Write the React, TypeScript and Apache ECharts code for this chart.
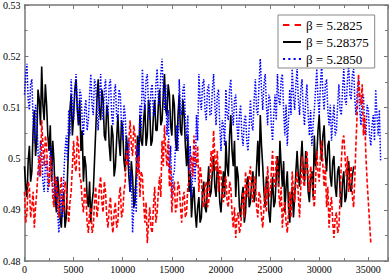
import React, { useEffect, useRef } from "react";
import * as echarts from "echarts";

// Monte Carlo trajectories sampled every SAMPLE_STEP sweeps
const SAMPLE_STEP = 125;

const seriesNames = ["β = 5.2825", "β = 5.28375", "β = 5.2850"];

const red5_2825 = [
  0.4935, 0.4875, 0.4895, 0.4955, 0.4945, 0.4885, 0.4905, 0.4935, 0.4865, 0.4905,
  0.4935, 0.4975, 0.5005, 0.4965, 0.5075, 0.5025, 0.4985, 0.5045, 0.5025, 0.4965,
  0.4945, 0.5005, 0.4985, 0.4925, 0.4905, 0.4965, 0.4955, 0.4915, 0.4885, 0.4935,
  0.4965, 0.4915, 0.4895, 0.4955, 0.4945, 0.4905, 0.4875, 0.4915, 0.4935, 0.4985,
  0.5035, 0.4985, 0.4975, 0.5045, 0.5025, 0.4965, 0.4955, 0.4915, 0.4895, 0.4945,
  0.4925, 0.4875, 0.4855, 0.4895, 0.4905, 0.4855, 0.4865, 0.4915, 0.4945, 0.4885,
  0.4905, 0.4945, 0.4965, 0.4915, 0.4895, 0.4955, 0.4935, 0.4885, 0.4865, 0.4905,
  0.4925, 0.4875, 0.4855, 0.4895, 0.4915, 0.4865, 0.4875, 0.4925, 0.4945, 0.4885,
  0.4895, 0.4935, 0.4955, 0.5015, 0.4985, 0.5035, 0.5075, 0.5025, 0.5005, 0.5065,
  0.5045, 0.4995, 0.4965, 0.5005, 0.4925, 0.4975, 0.4965, 0.4915, 0.4875, 0.4915,
  0.4835, 0.4875, 0.4905, 0.4865, 0.4855, 0.4905, 0.4945, 0.4875, 0.4895, 0.4935,
  0.4965, 0.4925, 0.5035, 0.4985, 0.5065, 0.5015, 0.4985, 0.5035, 0.4945, 0.4985,
  0.4895, 0.4935, 0.4955, 0.4895, 0.4905, 0.4955, 0.4945, 0.4905, 0.4875, 0.4925,
  0.4935, 0.4885, 0.4895, 0.4945, 0.4955, 0.4995, 0.5005, 0.4965, 0.5045, 0.4995,
  0.4985, 0.5025, 0.4935, 0.4985, 0.4965, 0.4915, 0.4905, 0.4945, 0.4955, 0.4905,
  0.4915, 0.4965, 0.5015, 0.4975, 0.5055, 0.5005, 0.4975, 0.5015, 0.4935, 0.4985,
  0.4975, 0.4925, 0.4915, 0.4955, 0.4965, 0.4915, 0.4905, 0.4955, 0.4945, 0.4895,
  0.4865, 0.4905, 0.4845, 0.4885, 0.4895, 0.4855, 0.4865, 0.4905, 0.4935, 0.4885,
  0.4975, 0.4935, 0.4925, 0.4965, 0.4985, 0.4935, 0.4915, 0.4965, 0.4955, 0.4905,
  0.4885, 0.4935, 0.4925, 0.4885, 0.4865, 0.4905, 0.4945, 0.4895, 0.4985, 0.4935,
  0.4925, 0.4975, 0.5015, 0.4955, 0.4945, 0.5005, 0.4985, 0.4935, 0.4905, 0.4945,
  0.4865, 0.4905, 0.4915, 0.4875, 0.4855, 0.4895, 0.4935, 0.4885, 0.4975, 0.4935,
  0.4915, 0.4955, 0.4975, 0.4925, 0.4885, 0.4945, 0.5005, 0.4955, 0.4945, 0.4985,
  0.5015, 0.4965, 0.4935, 0.4985, 0.4965, 0.4925, 0.4905, 0.4955, 0.5015, 0.4975,
  0.4955, 0.5005, 0.5035, 0.4985, 0.4945, 0.4985, 0.4905, 0.4945, 0.4865, 0.4905,
  0.4925, 0.4875, 0.4845, 0.4885, 0.4895, 0.4855, 0.4865, 0.4925, 0.4995, 0.5035,
  0.5045, 0.5005, 0.4965, 0.5005, 0.4935, 0.4965, 0.4985, 0.4925, 0.4905, 0.4965,
  0.5035, 0.5095, 0.5165, 0.5125, 0.5105, 0.5145, 0.5045, 0.5085, 0.5005, 0.4955,
  0.4915, 0.4875, 0.4835,
];

const black5_28375 = [
  0.4985, 0.4945, 0.4925, 0.4995, 0.5025, 0.4955, 0.4975, 0.5055, 0.5095, 0.5005,
  0.5035, 0.5135, 0.5115, 0.5065, 0.518, 0.5105, 0.5075, 0.5145, 0.5105, 0.5045,
  0.5015, 0.5065, 0.4955, 0.5035, 0.4995, 0.4925, 0.4895, 0.4965, 0.4935, 0.4885,
  0.4865, 0.4915, 0.4935, 0.4865, 0.4885, 0.4965, 0.5035, 0.5095, 0.5125, 0.5045,
  0.5085, 0.5135, 0.5155, 0.5095, 0.5065, 0.5115, 0.5015, 0.5055, 0.4955, 0.5005,
  0.4985, 0.4925, 0.4905, 0.4955, 0.4875, 0.4915, 0.4935, 0.4995, 0.5055, 0.5115,
  0.5155, 0.5095, 0.5075, 0.5135, 0.5115, 0.5045, 0.5035, 0.5105, 0.5085, 0.5025,
  0.4995, 0.5065, 0.5045, 0.4965, 0.4985, 0.5035, 0.5085, 0.5035, 0.5005, 0.5075,
  0.5055, 0.4995, 0.4975, 0.5045, 0.5015, 0.4965, 0.4935, 0.4995, 0.4965, 0.4905,
  0.4915, 0.4975, 0.5045, 0.4995, 0.5085, 0.5035, 0.5025, 0.5075, 0.5105, 0.5025,
  0.5045, 0.5115, 0.5095, 0.5025, 0.5035, 0.5085, 0.5115, 0.5055, 0.5055, 0.5105,
  0.5135, 0.5065, 0.5075, 0.5125, 0.5165, 0.5095, 0.5085, 0.5145, 0.5125, 0.5065,
  0.5045, 0.5125, 0.5105, 0.5035, 0.5015, 0.5085, 0.5125, 0.5055, 0.5045, 0.5115,
  0.5085, 0.5025, 0.4985, 0.5045, 0.4935, 0.4975, 0.4885, 0.4925, 0.4945, 0.4895,
  0.4865, 0.4905, 0.4925, 0.4875, 0.4885, 0.4935, 0.4955, 0.4905, 0.4895, 0.4945,
  0.4985, 0.4925, 0.4935, 0.4975, 0.5005, 0.4945, 0.4925, 0.4985, 0.4965, 0.4915,
  0.4895, 0.4935, 0.4975, 0.4925, 0.5035, 0.4985, 0.4965, 0.5045, 0.5085, 0.5015,
  0.4985, 0.5035, 0.4925, 0.4985, 0.4965, 0.4905, 0.4885, 0.4925, 0.4945, 0.4875,
  0.4895, 0.4955, 0.4965, 0.4905, 0.4915, 0.4955, 0.4975, 0.4915, 0.4935, 0.4985,
  0.5035, 0.4965, 0.5085, 0.5025, 0.4985, 0.4935, 0.4905, 0.4965, 0.4955, 0.4895,
  0.4875, 0.4925, 0.4965, 0.4905, 0.4915, 0.4965, 0.5005, 0.4945, 0.5035, 0.4985,
  0.4945, 0.4995, 0.4895, 0.4945, 0.4975, 0.4905, 0.4875, 0.4925, 0.4945, 0.4885,
  0.4925, 0.4975, 0.5015, 0.4965, 0.4945, 0.4995, 0.5035, 0.4975, 0.4955, 0.5015,
  0.4995, 0.4935, 0.4915, 0.4965, 0.4975, 0.4925, 0.5045, 0.4985, 0.5005, 0.5055,
  0.5085, 0.5025, 0.4995, 0.5045, 0.5065, 0.5005, 0.4975, 0.5025, 0.5035, 0.4965,
  0.4945, 0.4995, 0.5005, 0.4945, 0.4925, 0.4975, 0.4985, 0.4935, 0.4905, 0.4955,
  0.4975, 0.4915, 0.4925, 0.4975, 0.4995, 0.4945, 0.4935, 0.4965, 0.4985,
];

const blue5_2850 = [
  0.5125, 0.5165, 0.5185, 0.5115, 0.5095, 0.5145, 0.5155, 0.5075, 0.503, 0.5105,
  0.508, 0.5015, 0.4965, 0.5035, 0.5015, 0.4955, 0.4935, 0.4985, 0.5, 0.4935,
  0.4955, 0.5025, 0.5005, 0.4955, 0.491, 0.4935, 0.4965, 0.4895, 0.4855, 0.4905,
  0.4935, 0.4885, 0.4965, 0.5015, 0.5045, 0.4995, 0.5095, 0.5045, 0.5155, 0.5105,
  0.5075, 0.5135, 0.5165, 0.5105, 0.5065, 0.5135, 0.5125, 0.5075, 0.5045, 0.5095,
  0.5115, 0.5055, 0.5075, 0.5125, 0.5165, 0.5105, 0.5085, 0.5155, 0.5145, 0.5095,
  0.5055, 0.5115, 0.5165, 0.5105, 0.5075, 0.5135, 0.5155, 0.5095, 0.5085, 0.5145,
  0.5155, 0.5085, 0.5065, 0.5125, 0.5145, 0.5085, 0.5075, 0.5135, 0.5125, 0.5065,
  0.5035, 0.5105, 0.5085, 0.5025, 0.4995, 0.5035, 0.4935, 0.4975, 0.4855, 0.4905,
  0.4945, 0.4895, 0.5025, 0.4975, 0.5105, 0.5055, 0.5175, 0.5125, 0.5095, 0.5155,
  0.5165, 0.5105, 0.5075, 0.5135, 0.5145, 0.5085, 0.5085, 0.5145, 0.5175, 0.5115,
  0.5105, 0.5165, 0.5195, 0.5135, 0.5095, 0.5145, 0.5045, 0.5095, 0.4975, 0.5025,
  0.4925, 0.4965, 0.4975, 0.5025, 0.5065, 0.5015, 0.5155, 0.5095, 0.5085, 0.5135,
  0.5145, 0.5075, 0.5035, 0.5085, 0.4975, 0.5025, 0.4925, 0.4965, 0.5005, 0.4955,
  0.5085, 0.5035, 0.5165, 0.5115, 0.5095, 0.5145, 0.5155, 0.5095, 0.5075, 0.5135,
  0.5145, 0.5085, 0.5085, 0.5135, 0.5165, 0.5105, 0.5065, 0.5125, 0.5135, 0.5065,
  0.5015, 0.5075, 0.5065, 0.5025, 0.5135, 0.5085, 0.5075, 0.5135, 0.5155, 0.5095,
  0.5065, 0.5115, 0.5125, 0.5065, 0.5035, 0.5085, 0.5105, 0.5045, 0.5025, 0.5075,
  0.5085, 0.5035, 0.5015, 0.5065, 0.5115, 0.5065, 0.5055, 0.5115, 0.5155, 0.5095,
  0.5085, 0.5145, 0.5195, 0.5135, 0.5095, 0.5145, 0.5165, 0.5105, 0.5065, 0.5125,
  0.5115, 0.5065, 0.5035, 0.5085, 0.5125, 0.5075, 0.5165, 0.5115, 0.5105, 0.5155,
  0.5165, 0.5095, 0.5045, 0.5105, 0.5025, 0.5075, 0.5135, 0.5085, 0.5175, 0.5125,
  0.5095, 0.5145, 0.5175, 0.5115, 0.5085, 0.5135, 0.5155, 0.5095, 0.5065, 0.5115,
  0.5145, 0.5085, 0.5045, 0.5095, 0.5025, 0.5065, 0.5095, 0.5135, 0.5175, 0.5115,
  0.5085, 0.5145, 0.5185, 0.5125, 0.5095, 0.5145, 0.5155, 0.5095, 0.5065, 0.5105,
  0.5035, 0.5075, 0.5105, 0.5045, 0.5055, 0.5105, 0.5145, 0.5095, 0.5085, 0.5135,
  0.5175, 0.5115, 0.5105, 0.5155, 0.5185, 0.5125, 0.5115, 0.5165, 0.5175, 0.5115,
  0.5085, 0.5135, 0.5155, 0.5095, 0.5065, 0.5115, 0.5125, 0.5065, 0.5045, 0.5105,
  0.5095, 0.5045, 0.5025, 0.5065, 0.5085, 0.5035, 0.5135, 0.5085, 0.5045, 0.5095,
  0.4995,
];

const xTicks = { min: 0, max: 37000, interval: 5000 };
const yTicks = { min: 0.48, max: 0.53, interval: 0.01 };

const toPairs = (vals: number[]) => vals.map((v, i) => [i * SAMPLE_STEP, v]);

const FONT = "'Liberation Serif', 'DejaVu Serif', serif";
const AXIS_COLOR = "#777";

// legend glyphs (filled paths, 18 x 2)
const ICON_DASHED = "path://M0,0h6v2h-6zM11,0h6v2h-6z";
const ICON_SOLID = "path://M0,0h18v2h-18z";
const ICON_DOTTED = "path://M0,0h2v2h-2zM5,0h2v2h-2zM10,0h2v2h-2zM15,0h2v2h-2z";

export default function App() {
  const ref = useRef<HTMLDivElement>(null);

  useEffect(() => {
    if (!ref.current) return;
    const chart = echarts.init(ref.current, null, { renderer: "svg" });

    const frameAxisCommon = {
      axisLine: { show: true, onZero: false, lineStyle: { color: AXIS_COLOR, width: 1.5 } },
      axisTick: { show: true, inside: true, length: 4, lineStyle: { color: AXIS_COLOR } },
      minorTick: { show: true, splitNumber: 2, length: 3, lineStyle: { color: AXIS_COLOR } },
      splitLine: { show: false },
    };

    chart.setOption({
      animation: false,
      backgroundColor: "#fff",
      grid: { left: 22, right: 2, top: 5, bottom: 13, containLabel: false },
      legend: {
        orient: "vertical",
        left: 278,
        top: 15,
        padding: [3, 6, 2, 5],
        itemGap: 3,
        itemWidth: 18,
        itemHeight: 2,
        symbolKeepAspect: false,
        backgroundColor: "#fff",
        borderColor: "#888",
        borderWidth: 1,
        textStyle: { fontFamily: FONT, fontSize: 13, color: "#000", lineHeight: 14 },
        data: [
          { name: seriesNames[0], icon: ICON_DASHED, itemStyle: { color: "#ff0000" } },
          { name: seriesNames[1], icon: ICON_SOLID, itemStyle: { color: "#000000" } },
          { name: seriesNames[2], icon: ICON_DOTTED, itemStyle: { color: "#0000ff" } },
        ],
      },
      xAxis: [
        {
          type: "value",
          ...xTicks,
          position: "bottom",
          ...frameAxisCommon,
          axisLabel: {
            show: true,
            fontFamily: FONT,
            fontSize: 10,
            color: "#000",
            margin: 3,
            showMaxLabel: false,
            formatter: (v: number) => String(v),
          },
        },
        {
          type: "value",
          ...xTicks,
          position: "top",
          ...frameAxisCommon,
          axisLabel: { show: false },
        },
      ],
      yAxis: [
        {
          type: "value",
          ...yTicks,
          position: "left",
          ...frameAxisCommon,
          axisLabel: {
            show: true,
            fontFamily: FONT,
            fontSize: 10,
            color: "#000",
            margin: 4,
            formatter: (v: number) => String(Math.round(v * 100) / 100),
          },
        },
        {
          type: "value",
          ...yTicks,
          position: "right",
          ...frameAxisCommon,
          axisLabel: { show: false },
        },
      ],
      series: [
        {
          name: seriesNames[0],
          type: "line",
          data: toPairs(red5_2825),
          symbol: "none",
          showSymbol: false,
          lineStyle: { color: "#ff0000", width: 1.6, type: [4, 2] },
          itemStyle: { color: "#ff0000" },
          z: 3,
        },
        {
          name: seriesNames[1],
          type: "line",
          data: toPairs(black5_28375),
          symbol: "none",
          showSymbol: false,
          lineStyle: { color: "#000000", width: 1.6, type: "solid" },
          itemStyle: { color: "#000000" },
          z: 2,
        },
        {
          name: seriesNames[2],
          type: "line",
          data: toPairs(blue5_2850),
          symbol: "none",
          showSymbol: false,
          lineStyle: { color: "#0000ff", width: 1.5, type: [1.5, 1.5] },
          itemStyle: { color: "#0000ff" },
          z: 2,
        },
      ],
    });

    return () => chart.dispose();
  }, []);

  return (
    <div
      ref={ref}
      style={{ position: "fixed", left: 0, top: 0, width: 390, height: 274, background: "#fff" }}
    />
  );
}
